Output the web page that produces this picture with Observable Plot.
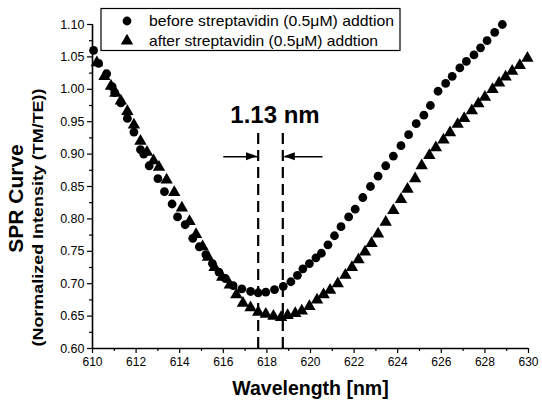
<!DOCTYPE html>
<html><head><meta charset="utf-8">
<script src="https://cdn.jsdelivr.net/npm/d3@7"></script>
<script src="https://cdn.jsdelivr.net/npm/@observablehq/plot@0.6"></script>
<style>
body{margin:0;background:#fff}
#chart{position:relative;width:542px;height:403px}
</style>
</head><body><div id="chart"></div>
<script>
// ---- data ----
const beforeX = [610.05,610.28,610.65,610.9,611.02,611.3,611.6,611.9,612.2,612.35,612.6,613.0,613.3,613.65,613.9,614.25,614.6,614.9,615.2,615.5,615.8,616.1,616.45,616.85,617.25,617.6,617.95,618.35,618.75,619.1,619.4,619.65,619.95,620.25,620.5,620.8,621.1,621.4,621.75,622.05,622.4,622.75,623.1,623.45,623.8,624.15,624.5,624.85,625.2,625.5,625.85,626.2,626.5,626.85,627.15,627.5,627.8,628.1,628.45,628.8];
const beforeY = [1.060,1.040,1.024,1.004,0.995,0.979,0.955,0.934,0.907,0.900,0.882,0.862,0.842,0.823,0.803,0.791,0.770,0.757,0.745,0.731,0.718,0.708,0.697,0.692,0.688,0.686,0.687,0.691,0.696,0.703,0.713,0.723,0.731,0.740,0.747,0.760,0.774,0.788,0.803,0.815,0.833,0.850,0.866,0.882,0.897,0.913,0.930,0.947,0.960,0.975,0.997,1.009,1.020,1.033,1.043,1.053,1.064,1.075,1.088,1.100];
const afterX = [610.2,610.55,610.85,611.05,611.3,611.6,611.9,612.2,612.5,612.8,613.05,613.4,613.75,614.1,614.45,614.75,615.05,615.3,615.6,615.95,616.3,616.6,616.9,617.25,617.6,617.95,618.3,618.65,618.95,619.3,619.6,619.95,620.3,620.6,620.9,621.25,621.6,621.9,622.2,622.5,622.8,623.1,623.45,623.8,624.15,624.45,624.8,625.1,625.45,625.75,626.1,626.4,626.75,627.05,627.4,627.7,628.0,628.35,628.65,628.95,629.25,629.6,629.95];
const afterY = [1.041,1.020,1.005,0.994,0.982,0.966,0.945,0.920,0.903,0.890,0.880,0.860,0.841,0.817,0.796,0.776,0.757,0.741,0.725,0.710,0.698,0.683,0.670,0.663,0.656,0.653,0.650,0.648,0.651,0.654,0.658,0.665,0.675,0.683,0.690,0.700,0.713,0.725,0.737,0.749,0.762,0.777,0.795,0.813,0.830,0.846,0.862,0.882,0.898,0.910,0.922,0.933,0.946,0.955,0.967,0.978,0.988,1.000,1.010,1.019,1.028,1.037,1.048];
const seriesNames = ["before streptavidin (0.5\u03bcM) addtion","after streptavidin (0.5\u03bcM) addtion"];
const xTicks = [610,612,614,616,618,620,622,624,626,628,630];
const xMinor = [611,613,615,617,619,621,623,625,627,629];
const yTicks = [0.60,0.65,0.70,0.75,0.80,0.85,0.90,0.95,1.00,1.05,1.10];
const yMinor = [0.625,0.675,0.725,0.775,0.825,0.875,0.925,0.975,1.025,1.075];
const xLabel = "Wavelength [nm]";
const yLabel1 = "SPR Curve";
const yLabel2 = "(Normalized Intensity (TM/TE))";
// annotation: resonance positions and shift
const dipX = [617.6, 618.73];
const dipTop = 0.932;
const shiftText = "1.13 nm";
const shiftTextPos = [618.37, 0.96];
const arrowY = 0.896;
const arrowLeft = [616.0, 617.57];
const arrowRight = [620.55, 618.8];

const before = beforeX.map((x,i)=>({x, y: beforeY[i]}));
const after = afterX.map((x,i)=>({x, y: afterY[i]}));

const font = "'Liberation Sans', Arial, Helvetica, sans-serif";
const rCircle = 4.4, rTri = 4.6;

const plot = Plot.plot({
  width: 542, height: 403,
  marginLeft: 92, marginRight: 14, marginTop: 24, marginBottom: 55,
  x: {domain: [610, 630]},
  y: {domain: [0.6, 1.1]},
  style: {fontFamily: font, background: "white", color: "black"},
  marks: [
    Plot.axisX({ticks: xMinor, tickSize: 3, tickFormat: () => "", label: null, strokeWidth: 1.2}),
    Plot.axisX({ticks: xTicks, tickSize: 5, tickPadding: 4, tickFormat: d3.format("d"), label: null, fontSize: 12, strokeWidth: 1.2}),
    Plot.axisY({ticks: yMinor, tickSize: 3, tickFormat: () => "", label: null, strokeWidth: 1.2}),
    Plot.axisY({ticks: yTicks, tickSize: 5, tickPadding: 3, tickFormat: d3.format(".2f"), label: null, fontSize: 12.5, strokeWidth: 1.2}),
    Plot.ruleX([610], {strokeWidth: 1.6}),
    Plot.ruleY([0.6], {strokeWidth: 1.6}),
    Plot.ruleX(dipX, {y1: 0.6, y2: dipTop, strokeWidth: 2.2, strokeDasharray: "11,6"}),
    Plot.link([arrowLeft, arrowRight], {x1: d=>d[0], x2: d=>d[1], y1: arrowY, y2: arrowY, strokeWidth: 1.4}),
    Plot.text([shiftText], {x: shiftTextPos[0], y: shiftTextPos[1], fontSize: 24, fontWeight: "bold"}),
    Plot.dot(before, {x: "x", y: "y", r: rCircle, fill: "black", symbol: "circle"}),
    Plot.dot(after, {x: "x", y: "y", r: rTri, fill: "black", symbol: "triangle"}),
    Plot.text([xLabel], {frameAnchor: "bottom", textAnchor: "middle", lineAnchor: "bottom", dy: 46, fontSize: 19.5, fontWeight: "bold"}),
    Plot.text([yLabel1], {frameAnchor: "left", textAnchor: "middle", lineAnchor: "middle", dx: -76, dy: 12, rotate: -90, fontSize: 21, fontWeight: "bold"}),
    Plot.text([yLabel2], {frameAnchor: "left", textAnchor: "middle", lineAnchor: "middle", dx: -54, dy: 31, rotate: -90, fontSize: 15, fontWeight: "bold"})
  ]
});
document.getElementById("chart").appendChild(plot);

const svg = d3.select(plot);
// stretch the long axis subtitle to the reference's length
svg.selectAll("text").filter(function(){ return this.textContent === yLabel2; })
  .attr("textLength", 258).attr("lengthAdjust", "spacingAndGlyphs");

// arrowheads (filled)
const sx = plot.scale("x"), sy = plot.scale("y");
const ay = sy.apply(arrowY);
[arrowLeft, arrowRight].forEach(([from, to]) => {
  const tx = sx.apply(to), dir = Math.sign(sx.apply(to) - sx.apply(from));
  svg.append("path")
    .attr("d", `M${tx},${ay} L${tx - dir*11},${ay-4} L${tx - dir*11},${ay+4} Z`)
    .attr("fill", "black");
});

// legend
const lg = svg.append("g").attr("font-family", font).attr("text-anchor", "start");
lg.append("rect").attr("x", 101).attr("y", 8.5).attr("width", 299).attr("height", 42)
  .attr("fill", "white").attr("stroke", "black").attr("stroke-width", 1.2);
const sym = [d3.symbolCircle, d3.symbolTriangle];
const sizes = [Math.PI*rCircle*rCircle, Math.PI*rTri*rTri];
const legendTextLen = [245, 229];
seriesNames.forEach((name, i) => {
  const yy = 21 + i*20;
  lg.append("path").attr("d", d3.symbol(sym[i], sizes[i])()).attr("transform", `translate(127,${yy})`).attr("fill", "black");
  lg.append("text").attr("x", 149).attr("y", yy + 5).attr("font-size", 15)
    .attr("textLength", legendTextLen[i]).attr("lengthAdjust", "spacingAndGlyphs").text(name);
});
</script>
</body></html>
